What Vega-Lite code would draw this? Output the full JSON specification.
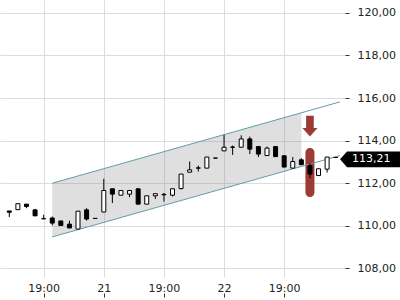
{
  "$schema": "https://vega.github.io/schema/vega-lite/v6.json",
  "width": 345,
  "height": 277,
  "autosize": {"type": "none"},
  "padding": {"left": 0, "top": 0, "right": 55, "bottom": 23},
  "background": "white",
  "config": {"view": {"stroke": null}, "font": "DejaVu Sans"},
  "datasets": {
    "candles": [
      {"i": 0, "o": 110.70, "h": 110.70, "l": 110.41, "c": 110.64},
      {"i": 1, "o": 110.76, "h": 111.04, "l": 110.76, "c": 111.04},
      {"i": 2, "o": 111.02, "h": 111.02, "l": 110.83, "c": 110.91},
      {"i": 3, "o": 110.75, "h": 110.80, "l": 110.47, "c": 110.47},
      {"i": 4, "o": 110.34, "h": 110.52, "l": 110.33, "c": 110.33},
      {"i": 5, "o": 110.37, "h": 110.44, "l": 110.02, "c": 110.13},
      {"i": 6, "o": 110.23, "h": 110.23, "l": 110.02, "c": 110.02},
      {"i": 7, "o": 110.08, "h": 110.24, "l": 109.90, "c": 109.90},
      {"i": 8, "o": 109.85, "h": 110.69, "l": 109.85, "c": 110.69},
      {"i": 9, "o": 110.75, "h": 110.83, "l": 110.25, "c": 110.32},
      {"i": 10, "o": 110.35, "h": 110.35, "l": 110.35, "c": 110.35},
      {"i": 11, "o": 110.65, "h": 112.21, "l": 110.65, "c": 111.66},
      {"i": 12, "o": 111.74, "h": 111.74, "l": 111.07, "c": 111.49},
      {"i": 13, "o": 111.44, "h": 111.66, "l": 111.44, "c": 111.66},
      {"i": 14, "o": 111.49, "h": 111.66, "l": 111.35, "c": 111.66},
      {"i": 15, "o": 111.74, "h": 111.74, "l": 111.02, "c": 111.02},
      {"i": 16, "o": 111.02, "h": 111.41, "l": 111.02, "c": 111.41},
      {"i": 17, "o": 111.41, "h": 111.51, "l": 111.26, "c": 111.51},
      {"i": 18, "o": 111.48, "h": 111.54, "l": 111.14, "c": 111.46},
      {"i": 19, "o": 111.44, "h": 111.74, "l": 111.38, "c": 111.74},
      {"i": 20, "o": 111.75, "h": 112.43, "l": 111.71, "c": 112.43},
      {"i": 21, "o": 112.52, "h": 113.02, "l": 112.52, "c": 112.63},
      {"i": 22, "o": 112.72, "h": 112.83, "l": 112.55, "c": 112.71},
      {"i": 23, "o": 112.71, "h": 113.23, "l": 112.71, "c": 113.23},
      {"i": 24, "o": 113.18, "h": 113.18, "l": 113.18, "c": 113.18},
      {"i": 25, "o": 113.52, "h": 114.27, "l": 113.52, "c": 113.69},
      {"i": 26, "o": 113.70, "h": 113.77, "l": 113.33, "c": 113.69},
      {"i": 27, "o": 113.69, "h": 114.25, "l": 113.69, "c": 114.08},
      {"i": 28, "o": 114.08, "h": 114.19, "l": 113.37, "c": 113.60},
      {"i": 29, "o": 113.72, "h": 113.72, "l": 113.23, "c": 113.37},
      {"i": 30, "o": 113.30, "h": 113.72, "l": 113.30, "c": 113.65},
      {"i": 31, "o": 113.72, "h": 113.72, "l": 113.25, "c": 113.25},
      {"i": 32, "o": 113.29, "h": 113.29, "l": 112.76, "c": 112.76},
      {"i": 33, "o": 112.71, "h": 113.23, "l": 112.71, "c": 113.02},
      {"i": 34, "o": 113.10, "h": 113.18, "l": 112.87, "c": 112.87},
      {"i": 35, "o": 112.82, "h": 112.94, "l": 112.24, "c": 112.43},
      {"i": 36, "o": 112.36, "h": 112.68, "l": 112.36, "c": 112.68},
      {"i": 37, "o": 112.66, "h": 113.23, "l": 112.50, "c": 113.23},
      {"i": 38, "o": 113.21, "h": 113.21, "l": 113.21, "c": 113.21}
    ],
    "channelFill": [
      {"i": 5, "lo": 109.48, "hi": 112.0},
      {"i": 34, "lo": 112.79, "hi": 115.31}
    ],
    "channelLines": [
      {"i": 5, "v": 112.0, "b": "upper"},
      {"i": 38.5, "v": 115.82, "b": "upper"},
      {"i": 5, "v": 109.48, "b": "lower"},
      {"i": 38.5, "v": 113.30, "b": "lower"}
    ],
    "signal": [{"i": 35, "lo": 111.36, "hi": 113.66, "arrow": 114.68}],
    "last": [{"i": 38.5, "v": 113.21, "label": "113,21"}]
  },
  "encoding": {
    "x": {
      "field": "i",
      "type": "quantitative",
      "scale": {"domain": [-0.5, 38.5], "nice": false, "zero": false},
      "axis": {
        "values": [4, 11, 18, 25, 32],
        "labelExpr": "datum.value == 11 ? '21' : datum.value == 25 ? '22' : '19:00'",
        "title": null,
        "domain": false,
        "grid": true,
        "gridColor": "#dcdcdc",
        "gridWidth": 1,
        "ticks": true,
        "tickSize": 4,
        "tickColor": "#333333",
        "offset": 16,
        "labelPadding": -15,
        "labelFontSize": 11,
        "labelFont": "DejaVu Sans",
        "labelColor": "#222222",
        "labelFlush": false,
        "labelOverlap": false
      }
    }
  },
  "layer": [
    {
      "data": {"name": "channelFill"},
      "mark": {"type": "area", "color": "#808080", "opacity": 0.25},
      "encoding": {
        "y": {
          "field": "lo",
          "type": "quantitative",
          "scale": {"domain": [107.6, 120.6], "nice": false, "zero": false},
          "axis": {
            "orient": "right",
            "values": [108, 110, 112, 114, 116, 118, 120],
            "labelExpr": "replace(format(datum.value, '.2f'), '.', ',')",
            "title": null,
            "domain": false,
            "grid": true,
            "gridColor": "#dcdcdc",
            "gridWidth": 1,
            "tickSize": 4,
            "tickColor": "#333333",
            "labelPadding": 8,
            "labelFontSize": 11,
            "labelFont": "DejaVu Sans",
            "labelColor": "#222222",
            "labelFlush": false
          }
        },
        "y2": {"field": "hi"}
      }
    },
    {
      "data": {"name": "signal"},
      "mark": {"type": "bar", "width": 9, "cornerRadius": 4.5, "color": "#9c3b35"},
      "encoding": {
        "y": {"field": "lo", "type": "quantitative", "axis": {"title": null}},
        "y2": {"field": "hi"}
      }
    },
    {
      "data": {"name": "signal"},
      "mark": {
        "type": "point",
        "shape": "M-0.37,-1L0.37,-1L0.37,0.17L0.73,0.17L0,1L-0.73,0.17L-0.37,0.17Z",
        "size": 428,
        "filled": true,
        "color": "#9c3b35",
        "opacity": 1,
        "strokeWidth": 0
      },
      "encoding": {
        "y": {"field": "arrow", "type": "quantitative", "axis": {"title": null}}
      }
    },
    {
      "data": {"name": "channelLines"},
      "mark": {"type": "line", "color": "#5f9fa8", "strokeWidth": 1},
      "encoding": {
        "y": {"field": "v", "type": "quantitative", "axis": {"title": null}},
        "detail": {"field": "b"}
      }
    },
    {
      "data": {"name": "candles"},
      "mark": {"type": "rule", "color": "black", "strokeWidth": 1},
      "encoding": {
        "y": {"field": "l", "type": "quantitative", "axis": {"title": null}},
        "y2": {"field": "h"}
      }
    },
    {
      "data": {"name": "candles"},
      "mark": {"type": "bar", "width": 4, "stroke": "black", "strokeWidth": 1},
      "encoding": {
        "y": {"field": "o", "type": "quantitative", "axis": {"title": null}},
        "y2": {"field": "c"},
        "fill": {
          "condition": {"test": "datum.c > datum.o", "value": "white"},
          "value": "black"
        }
      }
    },
    {
      "data": {"name": "last"},
      "mark": {
        "type": "point",
        "shape": "M0,0.18L0.7,-0.6L6,-0.6L6,0.97L0.7,0.97Z",
        "size": 400,
        "filled": true,
        "color": "black",
        "opacity": 1,
        "strokeWidth": 0
      },
      "encoding": {
        "y": {"field": "v", "type": "quantitative", "axis": {"title": null}}
      }
    },
    {
      "data": {"name": "last"},
      "mark": {
        "type": "text",
        "align": "left",
        "baseline": "middle",
        "dx": 12,
        "dy": 1.5,
        "color": "white",
        "fontSize": 11,
        "font": "DejaVu Sans"
      },
      "encoding": {
        "y": {"field": "v", "type": "quantitative", "axis": {"title": null}},
        "text": {"field": "label"}
      }
    }
  ]
}
